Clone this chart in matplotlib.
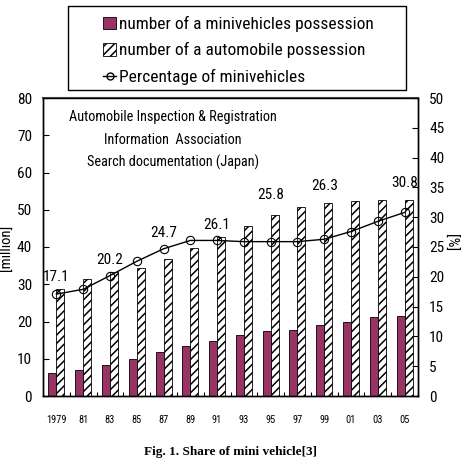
import matplotlib
matplotlib.use("Agg")
import matplotlib.pyplot as plt
from matplotlib.patches import Rectangle
from matplotlib.lines import Line2D
from matplotlib import font_manager
import numpy as np

years = ["1979", "81", "83", "85", "87", "89", "91", "93", "95", "97", "99", "01", "03", "05"]
mini = [6.1, 7.0, 8.3, 9.9, 11.8, 13.4, 14.7, 16.3, 17.5, 17.6, 19.0, 20.0, 21.2, 21.4]
autos = [28.8, 31.3, 33.4, 34.4, 36.7, 39.6, 42.7, 45.7, 48.6, 50.8, 51.7, 52.4, 52.6, 52.6]
pct = [17.1, 17.9, 20.2, 22.6, 24.7, 26.1, 26.1, 25.9, 25.9, 25.9, 26.3, 27.6, 29.3, 30.8]
label_idx = [0, 2, 4, 6, 8, 10, 13]
label_txt = ["17.1", "20.2", "24.7", "26.1", "25.8", "26.3", "30.8"]
label_y = [20.0, 22.8, 27.3, 28.7, 33.7, 35.2, 35.7]

avail = {f.name for f in font_manager.fontManager.ttflist}
cond = None
for cand in ["Liberation Sans Narrow", "DejaVu Sans Condensed", "Roboto Condensed", "Open Sans Condensed"]:
    if cand in avail:
        cond = cand
        break
fam = [cond, "DejaVu Sans"] if cond else ["DejaVu Sans"]
plt.rcParams['font.family'] = fam
plt.rcParams['hatch.linewidth'] = 1.1

fig = plt.figure(figsize=(4.62, 4.62), dpi=100)
ax = fig.add_axes([43/462, 1-396/462, 375/462, 298/462])
ax2 = ax.twinx()

x = np.arange(len(years))
w = 0.3
ax.bar(x - w/2, mini, width=w, color="#993366", edgecolor="black", linewidth=0.6, zorder=2)
ax.bar(x + w/2, autos, width=w, color="white", edgecolor="black", hatch="////", linewidth=0.6, zorder=2)
ax2.plot(x, pct, color="black", linewidth=1.0, marker="o", markersize=6,
         markerfacecolor="none", markeredgecolor="black", markeredgewidth=0.8, zorder=3)
for i, t, yy in zip(label_idx, label_txt, label_y):
    ax2.text(x[i], yy, t, ha="center", va="center", fontsize=11, color="black")

ax.set_xlim(-0.5, len(years) - 0.5)
ax.set_ylim(0, 80)
ax2.set_ylim(0, 50)
ax.set_yticks(range(0, 81, 10))
ax2.set_yticks(range(0, 51, 5))
ax.set_xticks(np.arange(-0.5, len(years), 1), minor=False)
ax.set_xticklabels([])
ax.set_xticks(x, minor=True)
ax.set_xticklabels(years, minor=True, fontsize=7.5)
ax.tick_params(axis="x", which="major", direction="in", length=3)
ax.tick_params(axis="x", which="minor", length=0, pad=14)
ax.tick_params(axis="y", direction="in", length=4, labelsize=11, pad=8)
ax2.tick_params(axis="y", direction="in", length=4, labelsize=11, pad=8)
for a in (ax, ax2):
    for s in a.spines.values():
        s.set_linewidth(1.0)
ax.spines["top"].set_color("#555555")
ax.spines["top"].set_linewidth(1.5)

fig.text(7/462, 1-248/462, "[million]", rotation=90, ha="center", va="center", fontsize=10.5)
fig.text(450/462, 1-243/462, "[%]", rotation=270, ha="center", va="center", fontsize=11)

src = ["Automobile Inspection & Registration", "Information  Association", "Search documentation (Japan)"]
for k, s in enumerate(src):
    fig.text(173/462, 1-(117 + 22.5*k)/462, s, ha="center", va="center", fontsize=10.3)

fig.add_artist(Rectangle((68/462, 1-90/462), 338/462, 84/462, transform=fig.transFigure,
                         facecolor="white", edgecolor="black", linewidth=1.0))
handles = [Rectangle((0, 0), 1, 1, facecolor="#993366", edgecolor="black", linewidth=0.6),
           Rectangle((0, 0), 1, 1, facecolor="white", edgecolor="black", hatch="////", linewidth=0.6),
           Line2D([], [], color="black", linewidth=1.0, marker="o", markersize=5,
                  markerfacecolor="none", markeredgecolor="black")]
labels = ["number of a minivehicles possession", "number of a automobile possession",
          "Percentage of minivehicles"]
fig.legend(handles, labels, loc="upper left", bbox_to_anchor=(103/462, 1-16/462),
           frameon=False, fontsize=12.5, handlelength=0.75, handleheight=0.75,
           handletextpad=0.2, labelspacing=0.6, borderpad=0, borderaxespad=0)

fig.text(231/462, 1-452/462, "Fig. 1. Share of mini vehicle[3]", ha="center", va="center",
         fontsize=9.5, fontweight="bold", family=["Liberation Serif", "DejaVu Serif"])

fig.savefig("out.png", dpi=100)
